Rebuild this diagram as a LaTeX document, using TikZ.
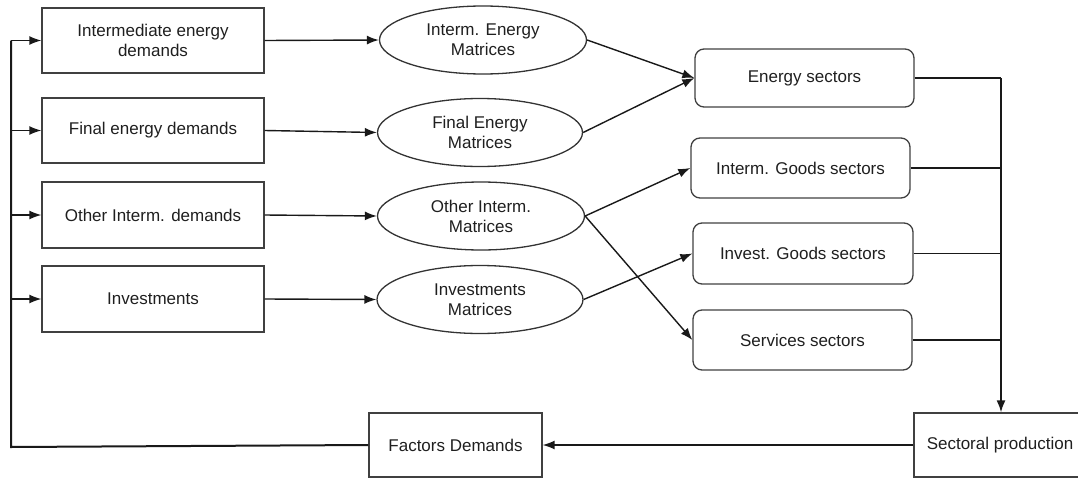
\documentclass[tikz,border=0pt]{standalone}
\usepackage{fontspec}
\setmainfont{Liberation Sans}
\usetikzlibrary{shapes.geometric,arrows.meta}
\begin{document}
\begin{tikzpicture}[x=1pt,y=-1pt,
  txt/.style={font=\fontsize{17}{20}\selectfont, text=black!88, align=center},
  sqbox/.style={txt, draw=black!75, line width=1.3pt, rectangle, inner sep=0pt},
  rbox/.style={txt, draw=black!75, line width=1.3pt, rectangle, rounded corners=9pt, inner sep=0pt},
  ell/.style={txt, draw=black!80, line width=1.3pt, ellipse, inner sep=0pt},
  conn/.style={line width=1.4pt, black!90},
  arr/.style={conn, -{Latex[length=12pt,width=9pt]}},
  loop/.style={line width=2pt, black!90}
]
\useasboundingbox (0,0) rectangle (1078,479);
% left boxes
\node[sqbox, minimum width=222pt, minimum height=65pt] (d1) at (153,40.5) {Intermediate energy\\demands};
\node[sqbox, minimum width=222pt, minimum height=65pt] (d2) at (153,130.5) {Final energy demands};
\node[sqbox, minimum width=222pt, minimum height=66pt] (d3) at (153,215) {Other Interm. demands};
\node[sqbox, minimum width=222pt, minimum height=66pt] (d4) at (153,299) {Investments};
% ellipses
\node[ell, minimum width=207pt, minimum height=68pt] (m1) at (483,40) {Interm. Energy\\Matrices};
\node[ell, minimum width=205pt, minimum height=68pt] (m2) at (480,132.5) {Final Energy\\Matrices};
\node[ell, minimum width=207pt, minimum height=68pt] (m3) at (481,216) {Other Interm.\\Matrices};
\node[ell, minimum width=206pt, minimum height=68pt] (m4) at (480,299.5) {Investments\\Matrices};
% right boxes
\node[rbox, minimum width=219pt, minimum height=58pt] (e) at (804.5,78) {Energy sectors};
\node[rbox, minimum width=219pt, minimum height=60pt] (g) at (800.5,168) {Interm. Goods sectors};
\node[rbox, minimum width=220pt, minimum height=61pt] (v) at (803,253.5) {Invest. Goods sectors};
\node[rbox, minimum width=219pt, minimum height=60pt] (s) at (802.5,340) {Services sectors};
% bottom
\node[sqbox, minimum width=172pt, minimum height=64pt] (sp) at (1000,445) {Sectoral production};
\node[sqbox, minimum width=173pt, minimum height=64pt] (fd) at (455.5,445) {Factors Demands};
% coordinates
\coordinate (j) at (1001,78);
\coordinate (lb) at (11,447);
\coordinate (lt) at (11,40.5);
% connectors
\foreach \i in {1,2,3,4} { \draw[arr] (d\i.east) -- (m\i.west); }
\draw[arr] (m1.east) -- (e.west);
\draw[arr] (m2.east) -- (e.west);
\draw[arr] (m3.east) -- (g.west);
\draw[arr] (m3.east) -- (s.west);
\draw[arr] (m4.east) -- (v.west);
\draw[conn] (e.east) -- (j);
\draw[conn] (g.east) -- (g.east -| j);
\draw[conn] (v.east) -- (v.east -| j);
\draw[conn] (s.east) -- (s.east -| j);
\draw[arr, line width=1.7pt] (j) -- (sp.north -| j);
\draw[arr] (sp.west) -- (fd.east);
\draw[loop] (fd.west) -- (lb) -- (lt);
\draw[arr] (lt) -- (d1.west);
\draw[arr] (d2.west -| lt) -- (d2.west);
\draw[arr] (d3.west -| lt) -- (d3.west);
\draw[arr] (d4.west -| lt) -- (d4.west);
\end{tikzpicture}
\end{document}
